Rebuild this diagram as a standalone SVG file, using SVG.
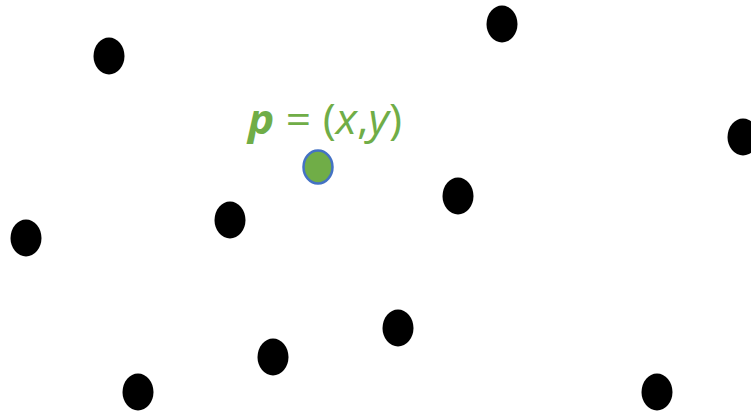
<svg xmlns="http://www.w3.org/2000/svg" width="751" height="414" viewBox="0 0 751 414">
<style>
.pt{fill:#000}
.q{fill:#70AD47;stroke:#4472C4;stroke-width:2.5}
.lbl{font-family:"Open Sans","Liberation Sans",sans-serif;font-size:42px;fill:#70AD47;font-style:italic}
</style>
<rect width="751" height="414" fill="#fff"/>
<g id="points">
<ellipse id="n1" class="pt" cx="109" cy="56" rx="15.5" ry="18.5"/>
<ellipse id="n2" class="pt" cx="502" cy="24" rx="15.5" ry="18.5"/>
<ellipse id="n3" class="pt" cx="743" cy="137" rx="15.5" ry="18.5"/>
<ellipse id="n4" class="pt" cx="26" cy="238" rx="15.5" ry="18.5"/>
<ellipse id="n5" class="pt" cx="230" cy="220" rx="15.5" ry="18.5"/>
<ellipse id="n6" class="pt" cx="458" cy="196" rx="15.5" ry="18.5"/>
<ellipse id="n7" class="pt" cx="398" cy="328" rx="15.5" ry="18.5"/>
<ellipse id="n8" class="pt" cx="273" cy="357" rx="15.5" ry="18.5"/>
<ellipse id="n9" class="pt" cx="138" cy="392" rx="15.5" ry="18.5"/>
<ellipse id="n10" class="pt" cx="657" cy="392" rx="15.5" ry="18.5"/>
</g>
<g id="query">
<ellipse class="q" cx="318" cy="167" rx="14.5" ry="16.5"/>
<text class="lbl" x="248" y="134" textLength="154" lengthAdjust="spacingAndGlyphs"><tspan font-weight="bold">p</tspan><tspan font-style="normal"> = (</tspan>x<tspan font-style="normal">,</tspan>y<tspan font-style="normal">)</tspan></text>
</g>
<g id="connectors"/>
</svg>
